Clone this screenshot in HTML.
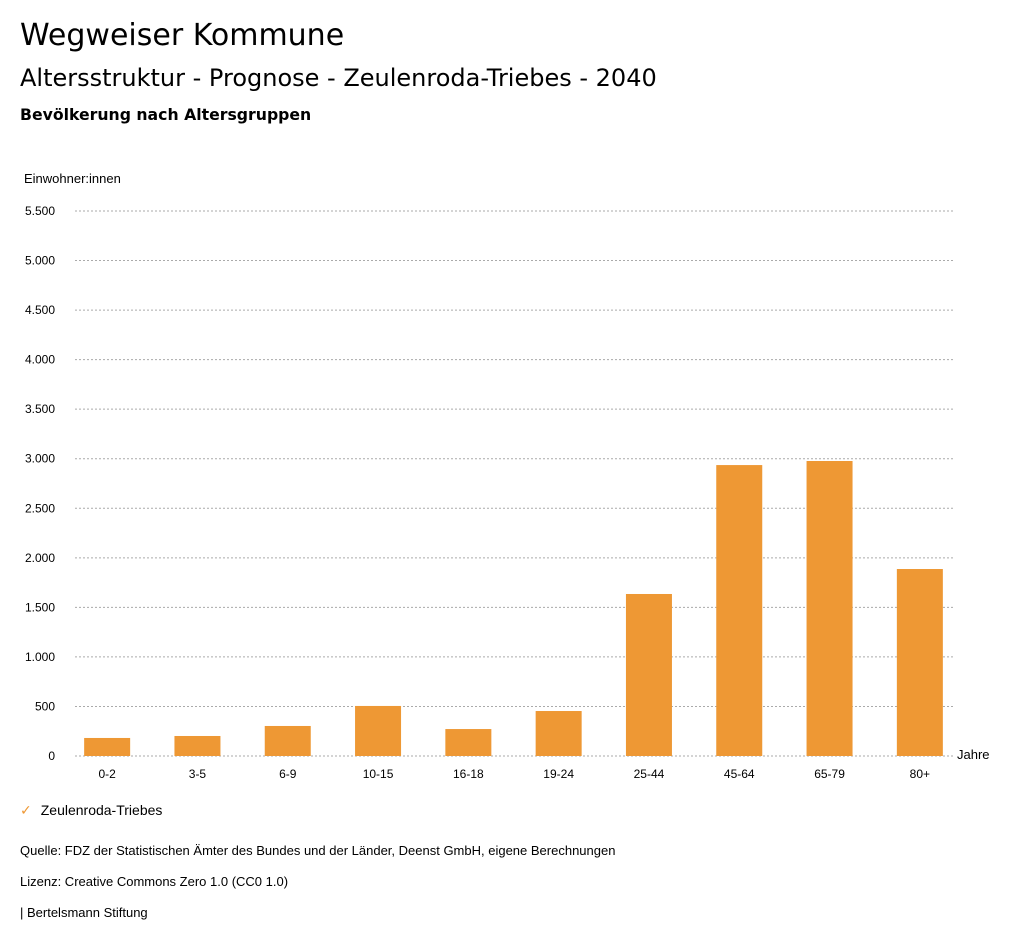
<!DOCTYPE html>
<html><head><meta charset="utf-8"><style>
body{margin:0;background:#fff;font-family:"Liberation Sans",sans-serif;color:#000}
#wrap{position:relative;width:1024px;height:946px;overflow:hidden}
.t{position:absolute;white-space:nowrap}
.d{font-family:"DejaVu Sans",sans-serif}
</style></head><body><div id="wrap">
<div class="t d" style="left:20px;top:18px;font-size:30px">Wegweiser Kommune</div>
<div class="t d" style="left:20px;top:64px;font-size:24px">Altersstruktur - Prognose - Zeulenroda-Triebes - 2040</div>
<div class="t d" style="left:20px;top:105px;font-size:15.7px;font-weight:bold">Bevölkerung nach Altersgruppen</div>
<div class="t" style="left:24px;top:171px;font-size:13px">Einwohner:innen</div>
<svg id="c" width="1024" height="800" style="position:absolute;left:0;top:0"></svg>
<div class="t" style="left:20px;top:802px;font-size:14px"><span style="color:#ee9834;margin-right:9px;font-weight:bold;font-family:'DejaVu Sans',sans-serif">✓</span>Zeulenroda-Triebes</div>
<div class="t" style="left:20px;top:843px;font-size:13px">Quelle: FDZ der Statistischen Ämter des Bundes und der Länder, Deenst GmbH, eigene Berechnungen</div>
<div class="t" style="left:20px;top:874px;font-size:13px">Lizenz: Creative Commons Zero 1.0 (CC0 1.0)</div>
<div class="t" style="left:20px;top:905px;font-size:13px">| Bertelsmann Stiftung</div>
</div>
<script>
const categories=["0-2","3-5","6-9","10-15","16-18","19-24","25-44","45-64","65-79","80+"];
const values=[182,202,303,505,272,454,1635,2936,2977,1887];
const yTicks=[0,500,1000,1500,2000,2500,3000,3500,4000,4500,5000,5500];
const tickLabels=["0","500","1.000","1.500","2.000","2.500","3.000","3.500","4.000","4.500","5.000","5.500"];
const svg=document.getElementById('c'),NS="http://www.w3.org/2000/svg";
const y=v=>756-v*545/5500;
const bandStart=62,band=90.3,bw=46;
const x=i=>bandStart+band*i+band/2;
function mk(t,a,txt){const e=document.createElementNS(NS,t);for(const k in a)e.setAttribute(k,a[k]);if(txt!=null)e.textContent=txt;svg.appendChild(e);return e;}
yTicks.forEach((v,i)=>{
 const l=mk('line',{x1:75,x2:953,y1:y(v),y2:y(v),stroke:'#aaa','stroke-dasharray':'2,2','stroke-width':1});
 
 
 const t=mk('text',{x:55,y:y(v)+4,'text-anchor':'end','font-size':12,'font-family':'Liberation Sans, sans-serif'},tickLabels[i]);
 
 
});
categories.forEach((c,i)=>{
 const r=mk('rect',{x:x(i)-bw/2,y:y(values[i]),width:bw,height:y(0)-y(values[i]),fill:'#ee9834'});
 
 
 const t=mk('text',{x:x(i),y:778,'text-anchor':'middle','font-size':12,'font-family':'Liberation Sans, sans-serif'},c);
 
 
});
const xt=mk('text',{x:957,y:759,'font-size':13,'font-family':'Liberation Sans, sans-serif'},'Jahre');


</script></body></html>
